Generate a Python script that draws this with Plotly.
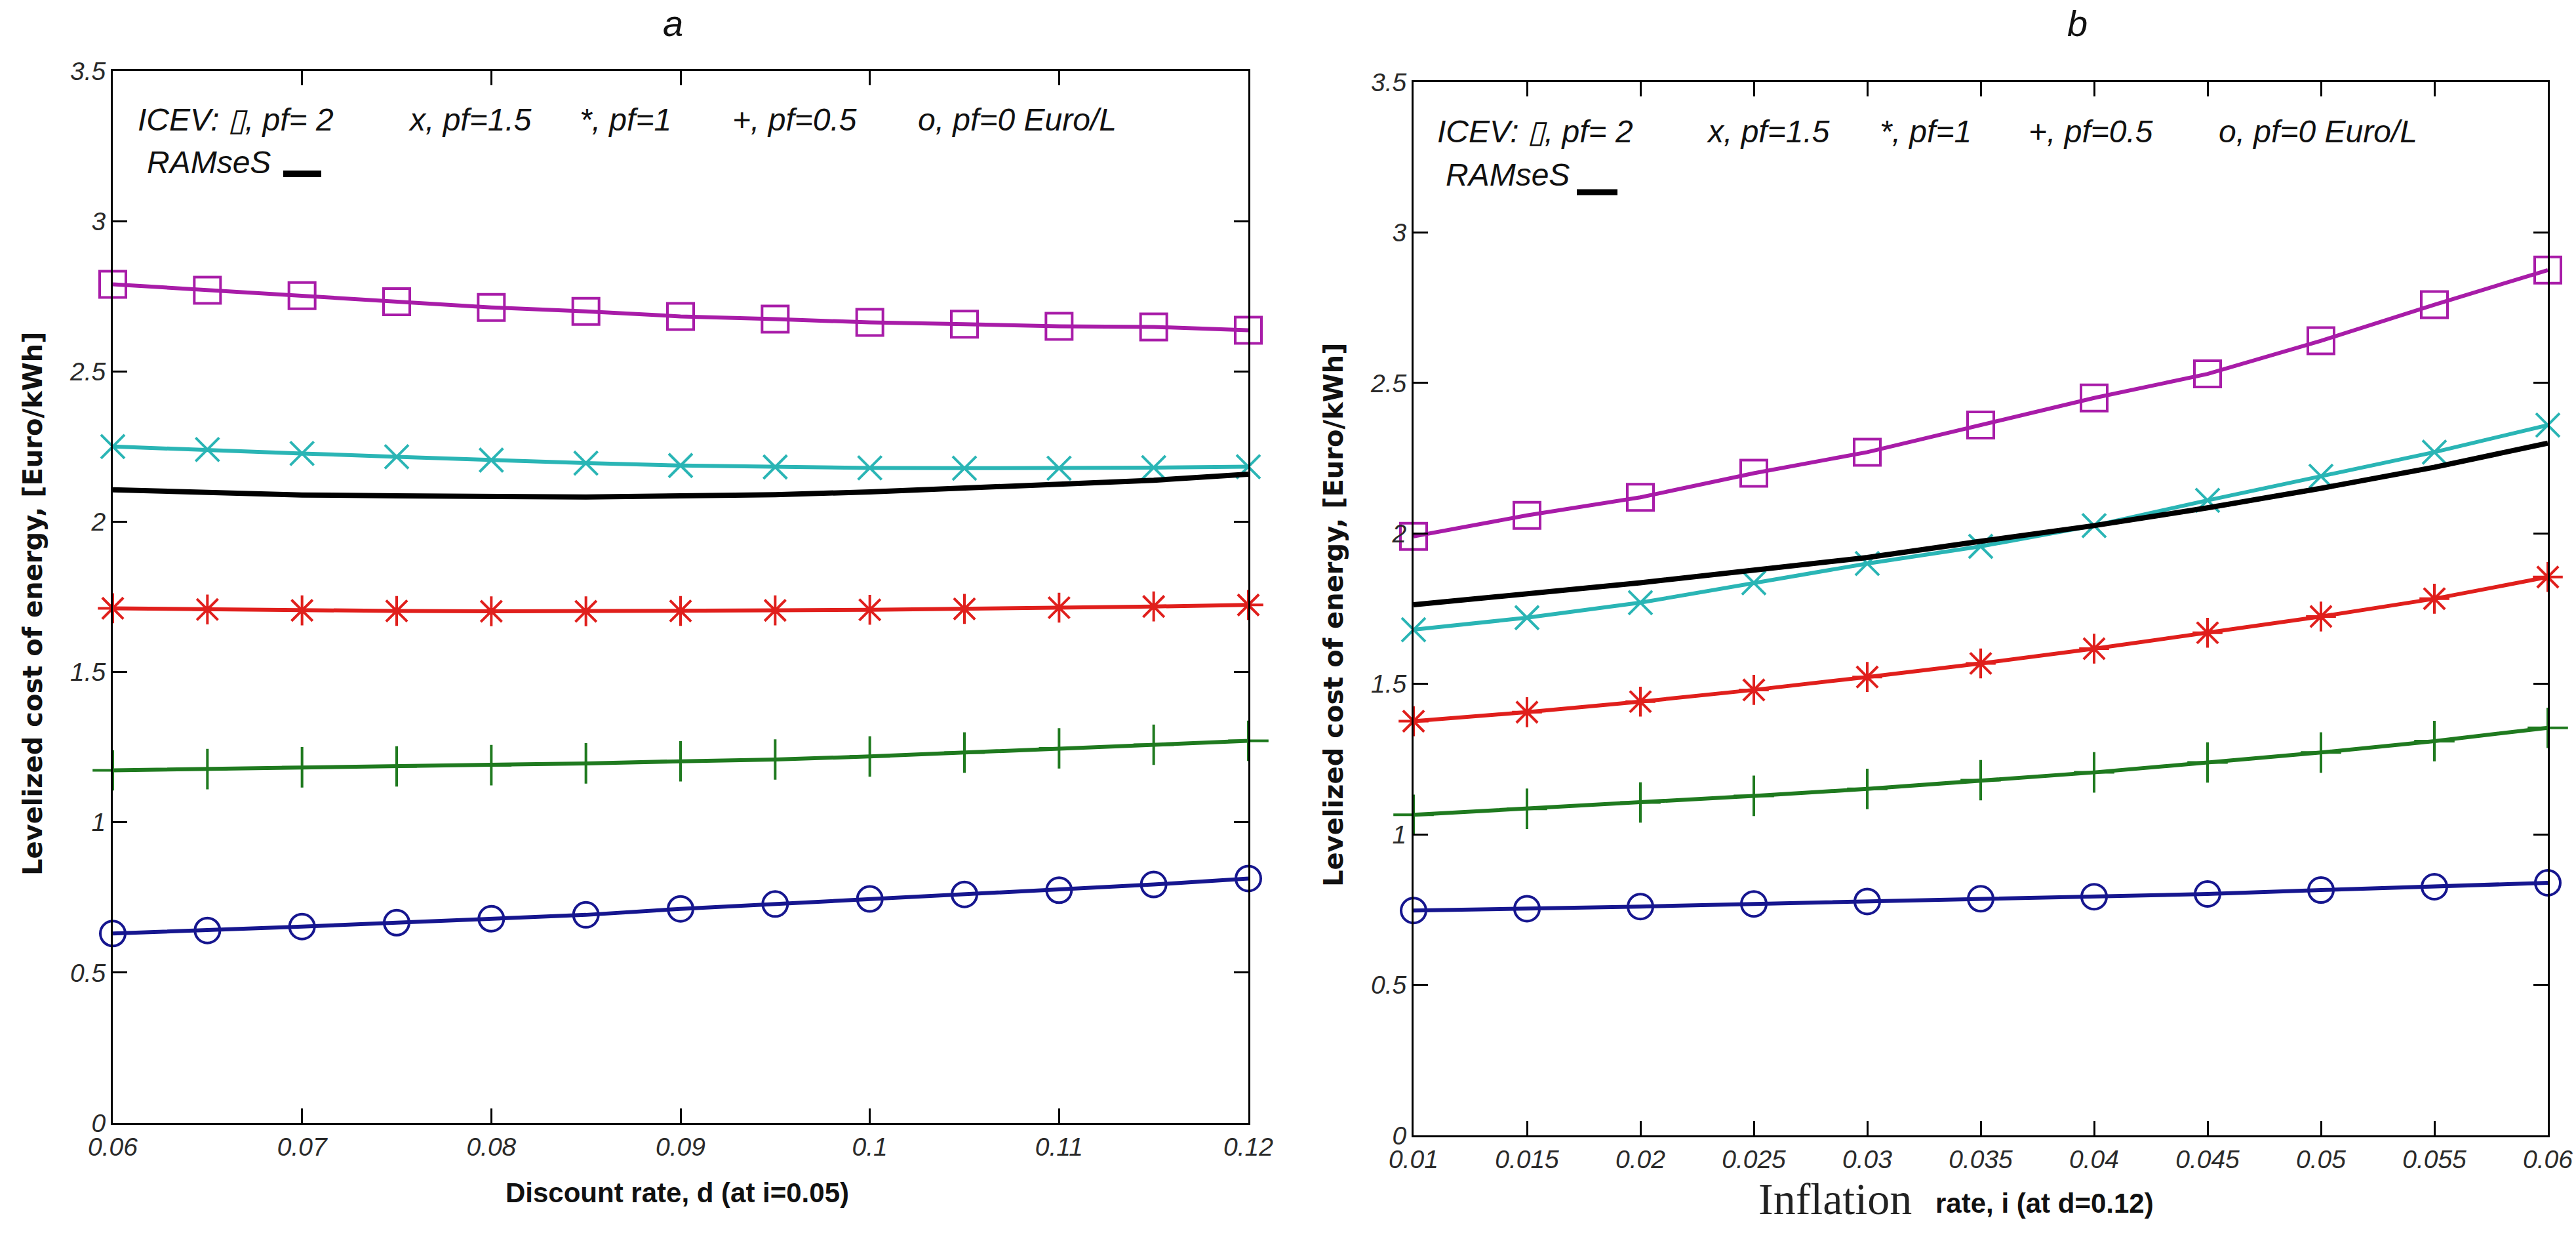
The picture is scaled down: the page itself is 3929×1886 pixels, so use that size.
import plotly.graph_objects as go

# Panel a: discount rate sweep (at i=0.05)
d_rate = [0.06, 0.065, 0.07, 0.075, 0.08, 0.085, 0.09, 0.095, 0.10, 0.105, 0.11, 0.115, 0.12]
a_pf2 = [2.79, 2.77, 2.752, 2.732, 2.713, 2.70, 2.683, 2.674, 2.663, 2.657, 2.65, 2.648, 2.637]
a_pf15 = [2.25, 2.24, 2.227, 2.216, 2.205, 2.195, 2.187, 2.182, 2.179, 2.178, 2.178, 2.18, 2.183]
a_ramses = [2.106, 2.097, 2.089, 2.086, 2.082, 2.082, 2.086, 2.09, 2.099, 2.11, 2.125, 2.138, 2.158]
a_pf1 = [1.712, 1.708, 1.705, 1.703, 1.702, 1.702, 1.703, 1.705, 1.707, 1.71, 1.714, 1.718, 1.723]
a_pf05 = [1.173, 1.177, 1.183, 1.186, 1.19, 1.196, 1.203, 1.209, 1.219, 1.232, 1.246, 1.258, 1.271]
a_pf0 = [0.63, 0.64, 0.653, 0.666, 0.679, 0.692, 0.712, 0.728, 0.745, 0.76, 0.774, 0.793, 0.813]
a_ticks = [0.06, 0.07, 0.08, 0.09, 0.1, 0.11, 0.12]
a_ticktext = ["0.06", "0.07", "0.08", "0.09", "0.1", "0.11", "0.12"]

# Panel b: inflation rate sweep (at d=0.12)
i_rate = [0.01, 0.015, 0.02, 0.025, 0.03, 0.035, 0.04, 0.045, 0.05, 0.055, 0.06]
b_pf2 = [1.99, 2.06, 2.12, 2.2, 2.27, 2.36, 2.45, 2.53, 2.64, 2.76, 2.875]
b_pf15 = [1.68, 1.72, 1.77, 1.836, 1.90, 1.957, 2.026, 2.11, 2.19, 2.27, 2.36]
b_ramses = [1.763, 1.80, 1.836, 1.878, 1.92, 1.974, 2.026, 2.085, 2.15, 2.22, 2.3]
b_pf1 = [1.376, 1.406, 1.441, 1.48, 1.523, 1.568, 1.617, 1.67, 1.724, 1.783, 1.855]
b_pf05 = [1.065, 1.085, 1.106, 1.128, 1.151, 1.18, 1.206, 1.239, 1.272, 1.31, 1.354]
b_pf0 = [0.747, 0.753, 0.76, 0.769, 0.777, 0.786, 0.793, 0.802, 0.815, 0.826, 0.839]
b_ticktext = ["0.01", "0.015", "0.02", "0.025", "0.03", "0.035", "0.04", "0.045", "0.05", "0.055", "0.06"]

y_ticks = [0, 0.5, 1, 1.5, 2, 2.5, 3, 3.5]
y_ticktext = ["0", "0.5", "1", "1.5", "2", "2.5", "3", "3.5"]

W, H = 3929, 1886
SANS = "Liberation Sans, Arial, sans-serif"
EPS = 1e-7

# (name, color, marker symbol, marker size)
styles = [
    ("pf=2", "#a81ca8", "square-open", 40),
    ("pf=1.5", "#2ab5b5", "x-thin-open", 36),
    ("RAMseS", "#000000", None, 0),
    ("pf=1", "#e01f1c", "asterisk-open", 38),
    ("pf=0.5", "#1f7a1f", "cross-thin-open", 44),
    ("pf=0", "#16168f", "circle-open", 38),
]

fig = go.Figure()


def add_panel(xvals, series, xa, ya):
    for (name, color, sym, size), yvals in zip(styles, series):
        if sym is None:
            fig.add_trace(go.Scatter(x=xvals, y=yvals, mode="lines", name=name,
                                     line=dict(color=color, width=8), xaxis=xa, yaxis=ya,
                                     showlegend=False, cliponaxis=False))
        else:
            fig.add_trace(go.Scatter(x=xvals, y=yvals, mode="lines+markers", name=name,
                                     line=dict(color=color, width=6),
                                     marker=dict(symbol=sym, size=size, color=color,
                                                 line=dict(width=4, color=color)),
                                     xaxis=xa, yaxis=ya, showlegend=False, cliponaxis=False))


add_panel(d_rate, [a_pf2, a_pf15, a_ramses, a_pf1, a_pf05, a_pf0], "x", "y")
add_panel(i_rate, [b_pf2, b_pf15, b_ramses, b_pf1, b_pf05, b_pf0], "x2", "y2")

tickfont = dict(family=SANS, size=39, color="#2a2a2a", style="italic")
axis_common = dict(showline=True, linecolor="black", linewidth=3, mirror="ticks",
                   ticks="inside", ticklen=22, tickwidth=3, tickcolor="black",
                   showgrid=False, zeroline=False, tickfont=tickfont, automargin=False,
                   ticklabeloverflow="allow")

fig.update_layout(
    width=W, height=H,
    paper_bgcolor="white", plot_bgcolor="white",
    margin=dict(l=0, r=0, t=0, b=0, autoexpand=False),
    xaxis=dict(domain=[172 / W, 1904 / W], range=[0.06 - EPS, 0.12 + EPS],
               tickvals=a_ticks, ticktext=a_ticktext, anchor="y", **axis_common),
    yaxis=dict(domain=[1 - 1712 / H, 1 - 108 / H], range=[0, 3.5],
               tickvals=y_ticks, ticktext=y_ticktext, anchor="x", **axis_common),
    xaxis2=dict(domain=[2156 / W, 3886 / W], range=[0.01 - EPS, 0.06 + EPS],
                tickvals=i_rate, ticktext=b_ticktext, anchor="y2", **axis_common),
    yaxis2=dict(domain=[1 - 1731 / H, 1 - 125 / H], range=[0, 3.5],
                tickvals=y_ticks, ticktext=y_ticktext, anchor="x2", **axis_common),
)

ann = []


def px(x, y, text, font, xanchor="center", **kw):
    d = dict(x=x / W, y=1 - y / H, xref="paper", yref="paper", text=text,
             showarrow=False, font=font, xanchor=xanchor, yanchor="middle")
    d.update(kw)
    ann.append(d)


# panel titles
title_font = dict(family=SANS, size=56, color="#111", style="italic")
px(1026, 36, "a", title_font)
px(3168, 36, "b", title_font)

# in-plot legend text
leg_font = dict(family=SANS, size=48, color="#111", style="italic")
legend_items = ["ICEV: ▯, pf= 2", "x, pf=1.5", "*, pf=1", "+, pf=0.5", "o, pf=0 Euro/L"]
for yrow, xs in [(182, [208, 621, 882, 1115, 1398]),
                 (200, [2190, 2601, 2865, 3092, 3382])]:
    for txt, xp in zip(legend_items, xs):
        px(xp, yrow, txt, leg_font, xanchor="left")
px(222, 248, "RAMseS", leg_font, xanchor="left")
px(2203, 266, "RAMseS", leg_font, xanchor="left")
fig.add_shape(type="line", xref="paper", yref="paper", x0=432 / W, x1=490 / W,
              y0=1 - 265 / H, y1=1 - 265 / H, line=dict(color="black", width=10))
fig.add_shape(type="line", xref="paper", yref="paper", x0=2405 / W, x1=2467 / W,
              y0=1 - 293 / H, y1=1 - 293 / H, line=dict(color="black", width=9))

# axis titles
ytitle = "Levelized cost of energy, [Euro/kWh]"
yfont = dict(family="DejaVu Sans", size=40, color="#111", weight="bold")
px(50, 920, ytitle, yfont, textangle=-90)
px(2034, 937, ytitle, yfont, textangle=-90)
xfont = dict(family=SANS, size=42, color="#111", weight="bold")
px(1033, 1818, "Discount rate, d (at i=0.05)", xfont)
px(2918, 1828, "Inflation", dict(family="Liberation Serif, Times New Roman, serif",
                                 size=68, color="#222"), xanchor="right")
px(2950, 1834, "rate, i (at d=0.12)", xfont, xanchor="left")

fig.update_layout(annotations=ann)
# drop the default page margin so the figure sits flush in the window
fig.write_html("out.html", config={"displayModeBar": False},
               post_script="document.body.style.margin='0';document.body.style.overflow='hidden';")
